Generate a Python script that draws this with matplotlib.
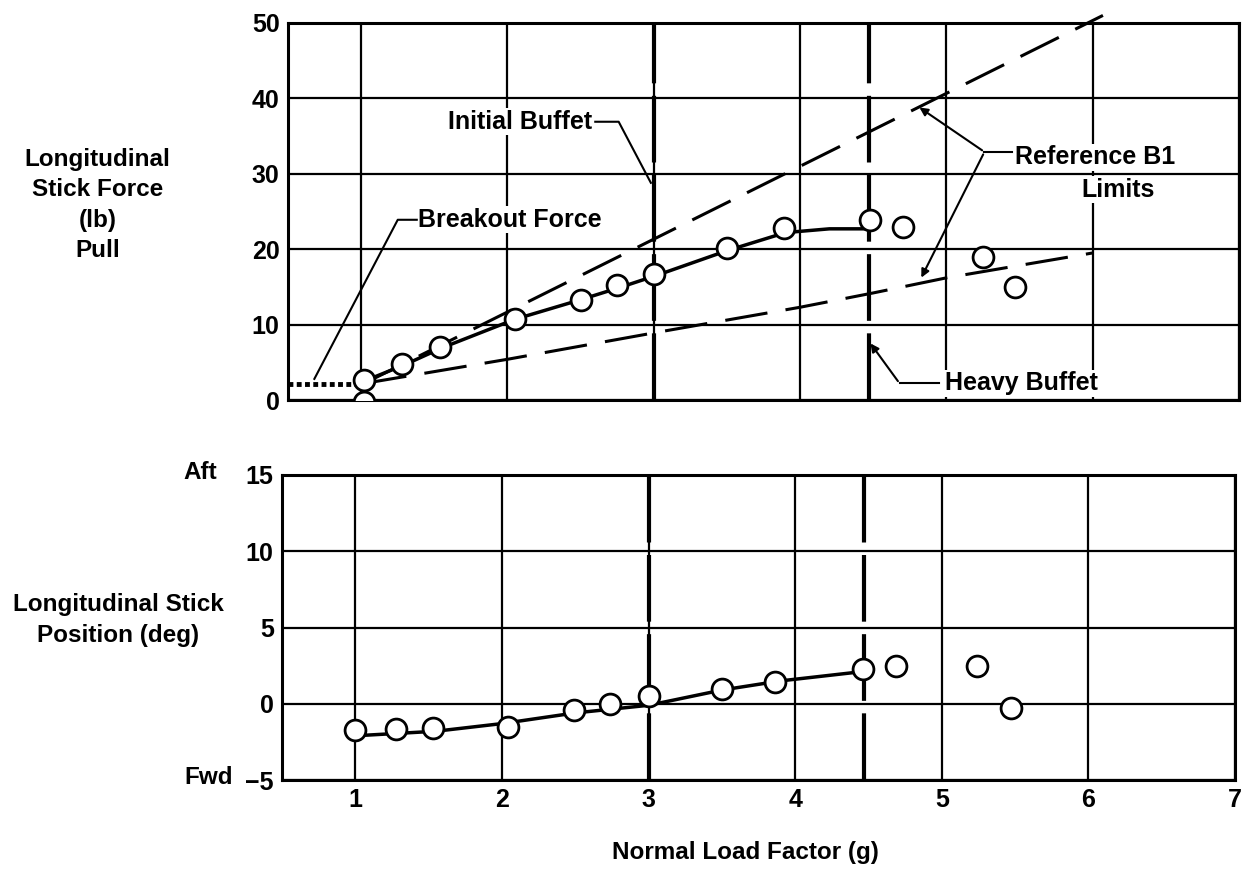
import numpy as np
import matplotlib.pyplot as plt

plt.rcParams['font.family'] = ['Liberation Sans', 'DejaVu Sans']
plt.rcParams['font.weight'] = 'bold'

# top panel: stick force (lb) vs load factor (g)
force_n = [1.02, 1.02, 1.28, 1.54, 2.05, 2.5, 2.75, 3.0, 3.5, 3.89, 4.48, 4.7, 5.25, 5.47]
force_lb = [-0.2, 2.7, 4.8, 7.0, 10.8, 13.3, 15.2, 16.7, 20.1, 22.8, 23.9, 23.0, 19.0, 15.0]
fair_n = [1.02, 1.3, 1.55, 2.05, 2.5, 2.78, 3.03, 3.5, 3.9, 4.2, 4.45]
fair_lb = [2.5, 4.7, 6.9, 10.7, 13.3, 15.0, 16.6, 19.8, 22.2, 22.7, 22.7]
ref_hi_n = [1.02, 6.07]
ref_hi_lb = [2.2, 51.0]
ref_lo_n = [1.02, 2.0, 3.0, 4.0, 4.5, 5.0, 6.0]
ref_lo_lb = [2.2, 5.4, 8.9, 12.3, 14.2, 16.2, 19.5]
breakout_n = [0.5, 1.02]
breakout_lb = [2.1, 2.1]

# bottom panel: stick position (deg)
pos_n = [1.0, 1.28, 1.53, 2.04, 2.49, 2.74, 3.0, 3.5, 3.86, 4.46, 4.69, 5.24, 5.47]
pos_deg = [-1.7, -1.65, -1.6, -1.55, -0.4, 0.0, 0.5, 1.0, 1.4, 2.25, 2.5, 2.5, -0.3]
pos_fair_n = [1.0, 1.55, 2.0, 2.5, 3.0, 3.5, 3.9, 4.45]
pos_fair_deg = [-2.1, -1.8, -1.3, -0.6, -0.1, 0.9, 1.5, 2.1]

initial_buffet = 3.0
heavy_buffet = 4.47

fig = plt.figure(figsize=(12.49, 8.73), dpi=100)
ax1 = fig.add_axes([0.2306, 0.5418, 0.7614, 0.4319])
ax2 = fig.add_axes([0.2258, 0.1065, 0.7630, 0.3494])

for ax in (ax1, ax2):
    ax.set_xlim(0.5, 7.0)
    ax.set_xticks(range(1, 8))
    ax.grid(True, color='black', lw=1.6)
    ax.set_axisbelow(True)
    ax.tick_params(length=0, labelsize=18, pad=6)
    for s in ax.spines.values():
        s.set_linewidth(2.2)
    ax.axvline(initial_buffet, color='black', lw=3, ls=(0, (16, 3)), zorder=3)
    ax.axvline(heavy_buffet, color='black', lw=3, ls=(0, (16, 3)), zorder=3)

mk = dict(marker='o', ms=15, mfc='white', mec='black', mew=2, ls='none', zorder=5)

# top
ax1.set_ylim(0, 50)
ax1.set_yticks(range(0, 51, 10))
ax1.tick_params(labelbottom=False)
ax1.plot(breakout_n, breakout_lb, color='black', lw=3.5, ls=(0, (1, 0.7)), zorder=4)
ax1.plot(ref_hi_n, ref_hi_lb, color='black', lw=2.2, ls=(0, (14, 6)), zorder=4, clip_on=False)
ax1.plot(ref_lo_n, ref_lo_lb, color='black', lw=2.2, ls=(0, (14, 6)), zorder=4)
ax1.plot(fair_n, fair_lb, color='black', lw=2.5, zorder=4)
ax1.plot(force_n, force_lb, **mk)

box = dict(facecolor='white', edgecolor='none', pad=1)
tk = dict(fontsize=18, zorder=6, bbox=box)
ax1.text(2.58, 36.9, 'Initial Buffet', ha='right', va='center', **tk)
ax1.plot([2.6, 2.76, 2.98], [36.9, 36.9, 28.8], color='black', lw=1.5, zorder=6)
ax1.text(1.39, 23.9, 'Breakout Force', ha='left', va='center', **tk)
ax1.plot([1.38, 1.25, 0.68], [23.9, 23.9, 2.8], color='black', lw=1.5, zorder=6)
ax1.text(5.47, 32.2, 'Reference B1', ha='left', va='center', **tk)
ax1.text(6.17, 27.9, 'Limits', ha='center', va='center', **tk)
ax1.plot([5.45, 5.26], [32.9, 32.9], color='black', lw=1.5, zorder=6)
ax1.annotate('', xy=(4.8, 39.0), xytext=(5.26, 32.9),
             arrowprops=dict(arrowstyle='-|>', color='black', lw=1.5, mutation_scale=12), zorder=6)
ax1.annotate('', xy=(4.82, 15.9), xytext=(5.26, 32.9),
             arrowprops=dict(arrowstyle='-|>', color='black', lw=1.5, mutation_scale=12), zorder=6)
ax1.text(4.99, 2.2, 'Heavy Buffet', ha='left', va='center', **tk)
ax1.plot([4.95, 4.68], [2.2, 2.2], color='black', lw=1.5, zorder=6)
ax1.annotate('', xy=(4.47, 7.8), xytext=(4.68, 2.2),
             arrowprops=dict(arrowstyle='-|>', color='black', lw=1.5, mutation_scale=12), zorder=6)

# bottom
ax2.set_ylim(-5, 15)
ax2.set_yticks(range(-5, 16, 5))
ax2.set_yticklabels(['\u22125', '0', '5', '10', '15'])
ax2.plot(pos_fair_n, pos_fair_deg, color='black', lw=2.5, zorder=4)
ax2.plot(pos_n, pos_deg, **mk)

fig.text(0.078, 0.765, 'Longitudinal\nStick Force\n(lb)\nPull', ha='center', va='center',
         fontsize=17.5, linespacing=1.42)
fig.text(0.0945, 0.290, 'Longitudinal Stick\nPosition (deg)', ha='center', va='center',
         fontsize=17.5, linespacing=1.42)
fig.text(0.160, 0.459, 'Aft', ha='center', va='center', fontsize=17.5)
fig.text(0.167, 0.109, 'Fwd', ha='center', va='center', fontsize=17.5)
fig.text(0.5965, 0.024, 'Normal Load Factor (g)', ha='center', va='center', fontsize=17.5)

fig.savefig('out.png', dpi=100)
